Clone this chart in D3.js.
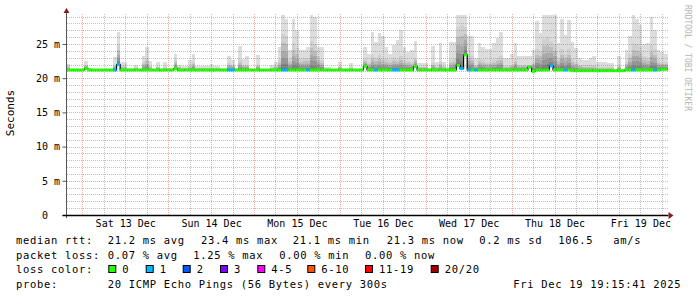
<!DOCTYPE html>
<html>
<head>
<meta charset="utf-8">
<script src="https://cdn.jsdelivr.net/npm/d3@7"></script>
<style>
  body { margin: 0; background: #fff; }
  svg { display: block; }
  text { font-family: "DejaVu Sans Mono", monospace; white-space: pre; }
</style>
</head>
<body>
<svg id="chart" width="697" height="297"></svg>
<script>
// one bin per hour, 7 days ending Fri Dec 19
const start = Date.UTC(2025, 11, 12, 19, 35);

// highest ping in each hour (ms)
const rttMax = [
  22.1, 21.4, 21.4, 21.4, 21.4, 22.5, 21.5, 21.3, 21.3, 21.3, 21.3, 21.3,
  21.4, 23.1, 26.8, 22.3, 22.3, 21.5, 21.5, 22.0, 21.4, 23.3, 24.6, 22.5,
  21.4, 22.4, 21.4, 22.3, 21.5, 21.5, 23.6, 22.0, 21.8, 21.8, 22.6, 23.6,
  21.8, 21.8, 21.8, 21.8, 22.1, 21.8, 21.8, 21.5, 21.5, 23.2, 22.6, 21.5,
  24.7, 22.8, 23.3, 21.4, 21.4, 23.4, 21.4, 21.4, 21.4, 21.9, 22.4, 24.6,
  29.2, 28.7, 24.1, 28.6, 27.1, 24.1, 24.1, 24.6, 29.2, 29.0, 24.6, 24.6,
  21.7, 21.7, 21.4, 21.4, 22.3, 21.4, 21.4, 22.2, 21.4, 21.4, 21.4, 24.6,
  23.6, 26.8, 25.3, 26.6, 26.1, 24.6, 23.6, 24.8, 25.6, 27.0, 24.6, 23.9,
  24.1, 25.5, 22.2, 22.2, 22.2, 21.5, 24.7, 22.4, 25.1, 22.4, 21.7, 25.3,
  25.3, 29.2, 29.2, 29.2, 26.1, 26.1, 22.9, 25.2, 24.6, 24.2, 24.2, 25.1,
  25.9, 26.7, 22.9, 23.0, 23.6, 25.1, 23.2, 23.2, 23.2, 23.2, 24.1, 28.3,
  26.6, 29.2, 29.2, 29.2, 29.2, 25.1, 28.7, 26.3, 28.5, 25.3, 24.4, 23.0,
  22.7, 22.7, 23.0, 23.3, 22.4, 22.4, 22.4, 22.2, 22.2, 21.4, 23.2, 21.4,
  24.1, 26.1, 29.2, 28.7, 27.8, 25.0, 25.1, 28.9, 27.0, 24.1, 23.9, 23.6
];

// upper edge of the dense part of the smoke (ms)
const rttUpper = [
  21.8, 21.3, 21.3, 21.3, 21.3, 22.0, 21.3, 21.3, 21.3, 21.3, 21.3, 21.3,
  21.3, 22.0, 24.8, 21.8, 21.8, 21.3, 21.3, 21.6, 21.3, 22.4, 22.9, 21.8,
  21.3, 21.7, 21.3, 21.6, 21.3, 21.3, 22.7, 21.7, 21.5, 21.5, 21.8, 22.4,
  21.5, 21.5, 21.5, 21.5, 21.6, 21.5, 21.5, 21.3, 21.3, 22.2, 21.9, 21.3,
  22.6, 21.9, 22.0, 21.3, 21.3, 22.0, 21.3, 21.3, 21.3, 21.6, 21.8, 22.6,
  26.5, 26.2, 22.8, 25.2, 24.4, 22.8, 22.9, 23.0, 25.5, 25.0, 23.2, 22.6,
  21.4, 21.4, 21.3, 21.3, 21.7, 21.3, 21.3, 21.6, 21.3, 21.3, 21.3, 22.8,
  22.4, 23.4, 23.0, 23.4, 23.0, 22.8, 22.6, 23.0, 22.8, 23.2, 22.6, 22.5,
  22.4, 23.0, 21.7, 21.7, 21.7, 21.3, 22.2, 21.7, 22.3, 21.8, 21.4, 22.6,
  22.8, 27.5, 27.8, 27.5, 23.6, 23.2, 22.0, 22.8, 22.6, 22.3, 22.3, 22.6,
  23.0, 23.2, 21.8, 21.8, 22.0, 22.8, 22.0, 22.0, 22.0, 22.0, 22.4, 24.2,
  24.0, 25.8, 26.0, 25.5, 25.0, 23.0, 24.2, 23.6, 24.2, 22.8, 22.4, 22.0,
  21.9, 21.9, 21.9, 21.9, 21.6, 21.6, 21.6, 21.6, 21.6, 21.3, 21.9, 21.3,
  22.4, 23.5, 25.2, 25.0, 24.6, 23.2, 23.0, 24.8, 24.2, 22.6, 22.4, 22.4
];

// median rtt (ms)
const rttMedian = [
  21.2, 21.2, 21.2, 21.2, 21.2, 21.4, 21.2, 21.2, 21.2, 21.2, 21.2, 21.2,
  21.2, 21.2, 22.0, 21.2, 21.2, 21.2, 21.2, 21.2, 21.2, 21.2, 21.2, 21.2,
  21.2, 21.2, 21.2, 21.2, 21.2, 21.2, 21.4, 21.2, 21.2, 21.2, 21.2, 21.2,
  21.2, 21.2, 21.2, 21.2, 21.2, 21.2, 21.2, 21.2, 21.2, 21.2, 21.2, 21.2,
  21.2, 21.2, 21.2, 21.2, 21.2, 21.2, 21.2, 21.2, 21.2, 21.2, 21.2, 21.2,
  21.2, 21.2, 21.2, 21.2, 21.2, 21.2, 21.2, 21.2, 21.2, 21.2, 21.2, 21.2,
  21.2, 21.2, 21.2, 21.2, 21.2, 21.2, 21.2, 21.2, 21.2, 21.2, 21.2, 21.7,
  21.2, 21.2, 21.2, 21.2, 21.2, 21.2, 21.2, 21.2, 21.2, 21.2, 21.2, 21.2,
  21.2, 21.7, 21.2, 21.2, 21.2, 21.2, 21.2, 21.2, 21.2, 21.2, 21.2, 21.2,
  21.2, 21.9, 21.4, 23.4, 21.2, 21.2, 21.2, 21.2, 21.2, 21.2, 21.2, 21.2,
  21.2, 21.2, 21.2, 21.2, 21.2, 21.2, 21.2, 21.2, 21.2, 21.6, 21.0, 21.2,
  21.2, 21.2, 21.2, 21.8, 21.2, 21.2, 21.2, 21.2, 21.2, 21.1, 21.1, 21.1,
  21.1, 21.1, 21.1, 21.1, 21.1, 21.1, 21.1, 21.1, 21.1, 21.1, 21.1, 21.1,
  21.2, 21.2, 21.2, 21.2, 21.2, 21.2, 21.2, 21.2, 21.2, 21.2, 21.3, 21.3
];

// loss class per hour (index into lossColors)
const lossClass = [
  0, 0, 0, 0, 0, 0, 0, 0, 0, 0, 0, 0,
  0, 1, 1, 0, 0, 0, 0, 0, 0, 0, 0, 0,
  0, 0, 0, 0, 0, 0, 0, 0, 0, 0, 0, 0,
  0, 0, 0, 0, 0, 0, 0, 0, 0, 1, 1, 0,
  0, 0, 0, 0, 0, 0, 0, 0, 0, 0, 0, 0,
  1, 1, 0, 0, 0, 0, 0, 1, 0, 0, 0, 0,
  0, 0, 0, 0, 0, 0, 0, 0, 0, 0, 0, 0,
  0, 0, 1, 0, 0, 0, 0, 1, 1, 0, 0, 0,
  0, 0, 0, 0, 0, 0, 0, 0, 0, 0, 0, 0,
  0, 0, 1, 0, 1, 0, 1, 0, 0, 0, 0, 0,
  0, 0, 0, 0, 0, 0, 0, 0, 0, 0, 0, 0,
  0, 0, 0, 1, 0, 0, 0, 1, 0, 0, 0, 0,
  0, 0, 0, 0, 0, 0, 0, 0, 0, 0, 0, 0,
  0, 0, 1, 0, 0, 0, 0, 0, 1, 0, 0, 0
];

const lossLabels = ["0", "1", "2", "3", "4-5", "6-10", "11-19", "20/20"];
const lossColors = ["#26ff00", "#00b8ff", "#0059ff", "#7e00ff", "#ff00ff", "#ff5500", "#ff0000", "#a10000"];
const yTicks = [0, 5, 10, 15, 20, 25];

const legendRows = [
  [["median rtt:", 16], ["21.2 ms avg", 107.7], ["23.4 ms max", 201], ["21.1 ms min", 292.7],
   ["21.3 ms now", 386.7], ["0.2 ms sd", 479.3], ["106.5", 558.3], ["am/s", 613.3]],
  [["packet loss:", 16], ["0.07 % avg", 107.7], ["1.25 % max", 193.3], ["0.00 % min", 279.3], ["0.00 % now", 365]],
  [["loss color:", 16]],
  [["probe:", 16], ["20 ICMP Echo Pings (56 Bytes) every 300s", 107.7], ["Fri Dec 19 19:15:41 2025", 513.3]]
];
const legendBoxX = [108.3, 145.7, 182.7, 220, 257.3, 307.3, 365, 430.7];

const svg = d3.select("#chart");
const plotLeft = 66.5, plotRight = 667.5, plotBottom = 215, plotTop = 12;
const hour = 3600e3;
const end = start + rttMax.length * hour;

const x = d3.scaleUtc().domain([new Date(start), new Date(end)]).range([plotLeft, plotRight]);
const y = d3.scaleLinear().domain([0, 30]).range([plotBottom, plotBottom - 30 * 6.84]);

const bins = rttMax.map((v, i) => ({
  t0: new Date(start + i * hour),
  t1: new Date(start + (i + 1) * hour),
  max: v,
  upper: rttUpper[i],
  median: rttMedian[i],
  loss: lossClass[i]
}));

// smoke
const smoke = svg.append("g").attr("shape-rendering", "crispEdges");
const bx = (d) => Math.round(x(d.t0));
const bw = (d) => Math.round(x(d.t1)) - Math.round(x(d.t0));

smoke.selectAll("rect.outer")
  .data(bins)
  .join("rect")
  .attr("class", "outer")
  .attr("x", bx)
  .attr("width", bw)
  .attr("y", (d) => Math.round(y(d.max)))
  .attr("height", (d) => Math.max(0, Math.round(y(d.median - 0.15)) - Math.round(y(d.max))))
  .attr("fill", "#dddddd");

const layers = 6;
const shade = d3.interpolateRgb("#d0d0d0", "#6e6e6e");
for (let k = 0; k < layers; k++) {
  const f = Math.pow((layers - k) / layers, 1.6);
  const topOf = (d) => Math.round(y(d.median + (d.upper - d.median) * f));
  smoke.append("g")
    .selectAll("rect")
    .data(bins)
    .join("rect")
    .attr("x", bx)
    .attr("width", bw)
    .attr("y", topOf)
    .attr("height", (d) => Math.max(0, Math.round(y(d.median - 0.1)) - topOf(d)))
    .attr("fill", shade(k / (layers - 1)));
}

// grid (drawn over the smoke, like rrdtool)
const minorGrid = "rgba(105,105,105,0.42)";
const majorGrid = "rgba(220,50,50,0.42)";
const grid = svg.append("g").attr("shape-rendering", "crispEdges").attr("stroke-dasharray", "1,1");
grid.selectAll("line.h")
  .data(d3.range(1, 30))
  .join("line")
  .attr("x1", plotLeft).attr("x2", plotRight)
  .attr("y1", (d) => Math.round(y(d)) + 0.5)
  .attr("y2", (d) => Math.round(y(d)) + 0.5)
  .attr("stroke", (d) => d % 5 === 0 ? majorGrid : minorGrid);

const sixHours = d3.utcHour.every(6).range(new Date(start), new Date(end));
grid.selectAll("line.v")
  .data(sixHours)
  .join("line")
  .attr("x1", (d) => Math.round(x(d)) + 0.5)
  .attr("x2", (d) => Math.round(x(d)) + 0.5)
  .attr("y1", plotBottom).attr("y2", plotTop + 2)
  .attr("stroke", (d) => d.getUTCHours() === 0 ? majorGrid : minorGrid);

// median: thin black step line, then loss coloured segments
svg.append("path")
  .attr("fill", "none")
  .attr("stroke", "#000")
  .attr("stroke-width", 1.2)
  .attr("d", d3.line()
    .curve(d3.curveStepAfter)
    .x((d) => x(d.t0))
    .y((d) => y(d.median))(bins.concat([{ t0: new Date(end), median: bins[bins.length - 1].median }])));

svg.append("g")
  .selectAll("line")
  .data(bins)
  .join("line")
  .attr("x1", (d) => x(d.t0))
  .attr("x2", (d) => x(d.t1))
  .attr("y1", (d) => y(d.median))
  .attr("y2", (d) => y(d.median))
  .attr("stroke", (d) => lossColors[d.loss])
  .attr("stroke-width", 3);

// axes
const yAxis = svg.append("g")
  .attr("transform", `translate(${plotLeft},0)`)
  .call(d3.axisLeft(y)
    .tickValues(yTicks)
    .tickSize(4)
    .tickPadding(2.5)
    .tickFormat((d) => d === 0 ? "0  " : d + " m"));
yAxis.select(".domain").remove();
yAxis.selectAll("text").attr("font-size", 10).attr("fill", "#000").attr("font-family", "DejaVu Sans Mono");
yAxis.selectAll("line").attr("stroke", "#555");

const noons = d3.utcDay.range(new Date(start), new Date(end)).map((d) => d3.utcHour.offset(d, 12));
const xAxis = svg.append("g")
  .attr("transform", `translate(0,${plotBottom})`)
  .call(d3.axisBottom(x)
    .tickValues(noons)
    .tickSize(0)
    .tickPadding(5)
    .tickFormat(d3.utcFormat("%a %d %b")));
xAxis.select(".domain").remove();
xAxis.selectAll("text").attr("font-size", 10).attr("fill", "#000").attr("font-family", "DejaVu Sans Mono");

svg.append("line")
  .attr("x1", plotLeft).attr("x2", plotLeft)
  .attr("y1", plotBottom + 3).attr("y2", plotTop)
  .attr("stroke", "#555").attr("shape-rendering", "crispEdges");
svg.append("line")
  .attr("x1", plotLeft - 4).attr("x2", plotRight + 1)
  .attr("y1", plotBottom + 0.5).attr("y2", plotBottom + 0.5)
  .attr("stroke", "#000").attr("stroke-width", 1.6);
svg.append("path")
  .attr("d", `M${plotLeft - 3},${plotTop + 1}L${plotLeft},${plotTop - 4}L${plotLeft + 3},${plotTop + 1}Z`)
  .attr("fill", "#8b1a1a");
svg.append("path")
  .attr("d", `M${plotRight + 1},${plotBottom - 3}L${plotRight + 6},${plotBottom + 0.5}L${plotRight + 1},${plotBottom + 4}Z`)
  .attr("fill", "#8b1a1a");

svg.append("text")
  .attr("transform", "translate(14,113) rotate(-90)")
  .attr("text-anchor", "middle")
  .attr("font-size", 11)
  .text("Seconds");

svg.append("text")
  .attr("transform", "translate(685,5) rotate(90)")
  .attr("font-size", 8)
  .attr("fill", "#b4b4b4")
  .text("RRDTOOL / TOBI OETIKER");

// legend
const baselines = [244.3, 258.7, 273, 287.5];
legendRows.forEach((row, r) => {
  svg.append("g")
    .selectAll("text")
    .data(row)
    .join("text")
    .attr("x", (d) => d[1])
    .attr("y", baselines[r])
    .attr("font-size", 10.5)
    .attr("letter-spacing", 0.68)
    .text((d) => d[0]);
});

const boxes = svg.append("g").selectAll("g").data(lossLabels).join("g");
boxes.append("rect")
  .attr("x", (d, i) => legendBoxX[i] + 0.5)
  .attr("y", 265.5)
  .attr("width", 7)
  .attr("height", 7)
  .attr("fill", (d, i) => lossColors[i])
  .attr("stroke", "#000");
boxes.append("text")
  .attr("x", (d, i) => legendBoxX[i] + 14)
  .attr("y", baselines[2])
  .attr("font-size", 10.5)
  .attr("letter-spacing", 0.68)
  .text((d) => d);
</script>
</body>
</html>
